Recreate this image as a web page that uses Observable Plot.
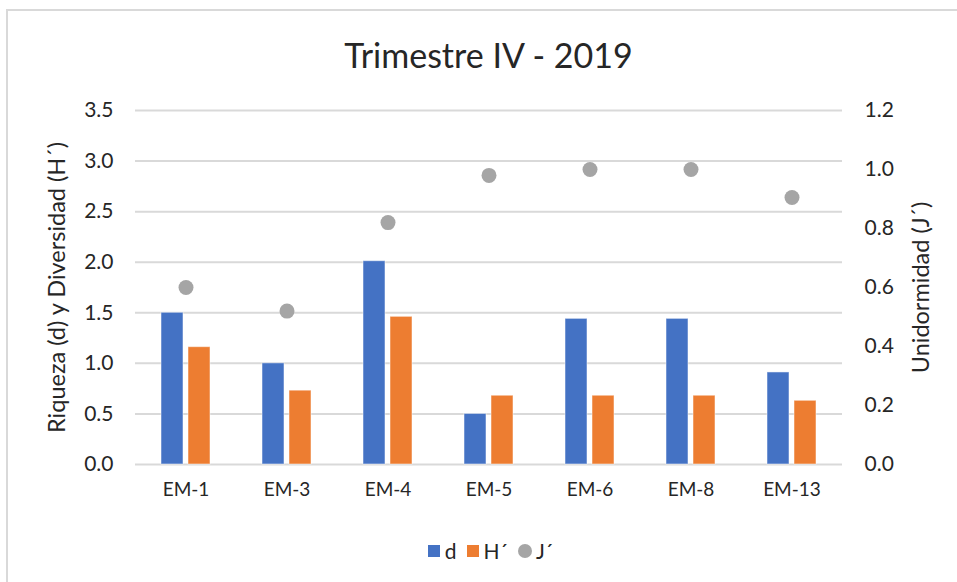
<!DOCTYPE html>
<html>
<head>
<meta charset="utf-8">
<script src="https://cdn.jsdelivr.net/npm/d3@7"></script>
<script src="https://cdn.jsdelivr.net/npm/@observablehq/plot@0.6"></script>
<style>
  html, body { margin: 0; padding: 0; background: #fff; }
  body { width: 957px; height: 582px; position: relative; overflow: hidden; font-family: Lato, "Open Sans", sans-serif; color: #262626; }
  #frame { position: absolute; left: 6px; top: 9px; width: 1000px; height: 640px; border: 2px solid #d9d9d9; box-sizing: border-box; }
  #title { position: absolute; left: 10px; top: 35px; width: 957px; text-align: center; font-size: 34px; line-height: 40px; color: #262626; }
  #chart { position: absolute; left: 0; top: 90px; }
  #chart g[aria-label="y-axis label"] text { font-size: 23.5px; }
  #legend { position: absolute; left: 12px; top: 538px; width: 957px; display: flex; justify-content: center; align-items: center; font-size: 21px; color: #262626; }
  #legend .item { display: flex; align-items: center; margin: 0 5px; }
  #legend .sw { width: 12px; height: 12px; margin-right: 5px; }
  #legend .circ { width: 14px; height: 14px; border-radius: 50%; margin-right: 4px; }
</style>
</head>
<body>
<div id="frame"></div>
<div id="title">Trimestre IV - 2019</div>
<div id="chart"></div>
<div id="legend"></div>
<script>
const categories = ["EM-1", "EM-3", "EM-4", "EM-5", "EM-6", "EM-8", "EM-13"];
const dValues = [1.50, 1.00, 2.01, 0.50, 1.44, 1.44, 0.91];
const hValues = [1.16, 0.73, 1.46, 0.68, 0.68, 0.68, 0.63];
const jValues = [0.60, 0.52, 0.82, 0.98, 1.00, 1.00, 0.905];
const seriesNames = ["d", "H´", "J´"];
const seriesColors = ["#4472C4", "#ED7D31", "#A5A5A5"];
const leftTicks = [0, 0.5, 1.0, 1.5, 2.0, 2.5, 3.0, 3.5];
const rightTicks = [0, 0.2, 0.4, 0.6, 0.8, 1.0, 1.2];
const leftMax = 3.5, rightMax = 1.2;
const k = leftMax / rightMax;

const bars = [];
categories.forEach((c, i) => {
  bars.push({cat: c, series: seriesNames[0], value: dValues[i]});
  bars.push({cat: c, series: seriesNames[1], value: hValues[i]});
});
const dots = categories.map((c, i) => ({cat: c, value: jValues[i]}));

const font = "Lato, 'Open Sans', sans-serif";
const chart = Plot.plot({
  width: 957,
  height: 420,
  marginTop: 20,
  marginBottom: 46,
  marginLeft: 134,
  marginRight: 115,
  style: {fontFamily: font, fontSize: "19px", color: "#404040", background: "transparent"},
  fx: {domain: categories, padding: 0, axis: null},
  x: {domain: seriesNames.slice(0, 2), paddingInner: 0.18, paddingOuter: 0.9, axis: null},
  y: {domain: [0, leftMax], axis: null},
  color: {domain: seriesNames, range: seriesColors},
  marks: [
    Plot.gridY(leftTicks, {stroke: "#d9d9d9", strokeOpacity: 1, strokeWidth: 2}),
    Plot.barY(bars, {fx: "cat", x: "series", y: "value", fill: "series", stroke: "#ffffff", strokeOpacity: 0.5, strokeWidth: 1}),
    Plot.dot(dots, {fx: "cat", y: d => d.value * k, r: 7.5, fill: seriesColors[2]}),
    Plot.axisFx({anchor: "bottom", tickSize: 0, tickPadding: 18, label: null, fontSize: 19, fill: "#262626"}),
    Plot.axisY({anchor: "left", ticks: leftTicks, tickSize: 0, tickPadding: 22, tickFormat: d3.format(".1f"),
      label: "Riqueza (d) y Diversidad (H´)", labelAnchor: "center", labelArrow: "none", labelOffset: 87, fontSize: 21, fill: "#262626"}),
    Plot.axisY({anchor: "right", ticks: rightTicks.map(v => v * k), tickSize: 0, tickPadding: 22,
      tickFormat: v => (v / k).toFixed(1),
      label: "Unidormidad (J´)", labelAnchor: "center", labelArrow: "none", labelOffset: 86, fontSize: 21, fill: "#262626"})
  ]
});
document.getElementById("chart").appendChild(chart);

const legend = document.getElementById("legend");
seriesNames.forEach((name, i) => {
  const item = document.createElement("div");
  item.className = "item";
  const sw = document.createElement("span");
  sw.className = i === 2 ? "circ" : "sw";
  sw.style.background = seriesColors[i];
  const label = document.createElement("span");
  label.textContent = name;
  item.appendChild(sw);
  item.appendChild(label);
  legend.appendChild(item);
});
</script>
</body>
</html>
